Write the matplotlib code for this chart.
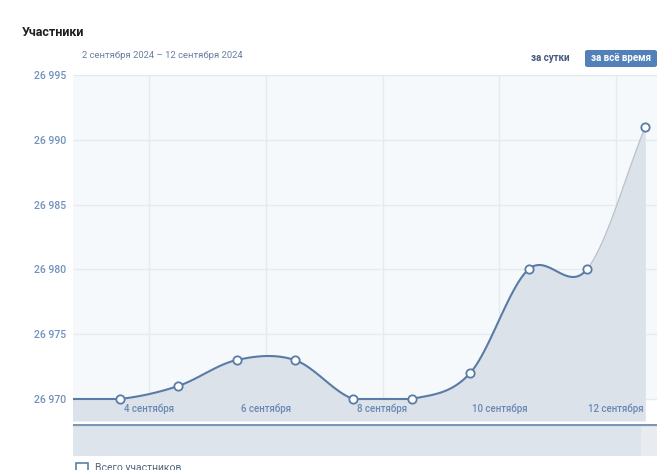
import numpy as np
import matplotlib
matplotlib.use('Agg')
import matplotlib.pyplot as plt
from matplotlib.patches import FancyBboxPatch, Rectangle

plt.rcParams['font.family'] = ['Roboto', 'DejaVu Sans']

# Data: members count per day (September 2024)
days = [2, 3, 4, 5, 6, 7, 8, 9, 10, 11, 12]
members = [26970, 26970, 26971, 26973, 26973, 26970, 26970, 26972, 26980, 26980, 26991]
tick_days = [4, 6, 8, 10, 12]
tick_labels = ['4 сентября', '6 сентября', '8 сентября', '10 сентября', '12 сентября']
y_ticks = [26970, 26975, 26980, 26985, 26990, 26995]

title = 'Участники'
period = '2 сентября 2024 – 12 сентября 2024'
btn_day = 'за сутки'
btn_all = 'за всё время'
footer = 'Всего участников'

# Colors
line_c = '#5a7ba6'
fill_c = '#dbe2ea'
bg_c = '#f6f9fc'
grid_c = '#e6eaef'
tick_c = '#7190bc'
xlab_c = '#6a88b3'

W, H = 670, 470
fig = plt.figure(figsize=(W / 100, H / 100), dpi=100)


def px(x, y):
    return x / W, 1 - y / H


# Points sit in the middle of each day
xs = np.array(days, dtype=float) + 0.5
ys = np.array(members, dtype=float)

# Smooth curve (cubic Hermite, Catmull-Rom tangents), floored at the series minimum
tang = np.gradient(ys, xs)
cx, cy = [], []
for i in range(len(xs) - 1):
    t = np.linspace(0, 1, 40)
    h = xs[i + 1] - xs[i]
    h00 = 2 * t**3 - 3 * t**2 + 1
    h10 = t**3 - 2 * t**2 + t
    h01 = -2 * t**3 + 3 * t**2
    h11 = t**3 - t**2
    seg = h00 * ys[i] + h10 * h * tang[i] + h01 * ys[i + 1] + h11 * h * tang[i + 1]
    cx.append(xs[i] + t * h)
    cy.append(np.maximum(seg, ys.min()))

x_lo = 2.70
x_hi = 12.70
y_lo = 26968.3
y_hi = 26995

# Main axes
l, t_ = 73, 75
r, b = 657, 421
ax = fig.add_axes([l / W, 1 - b / H, (r - l) / W, (b - t_) / H])
ax.set_xlim(x_lo, x_hi)
ax.set_ylim(y_lo, y_hi)
for s in ax.spines.values():
    s.set_visible(False)
ax.set_facecolor('white')
ax.axhspan(26970, y_hi, color=bg_c, zorder=0, lw=0)

# grid
ax.hlines(y_ticks, x_lo, x_hi, color=grid_c, lw=1, zorder=1)
ax.vlines(tick_days, 26970, y_hi, color=grid_c, lw=1, zorder=1)

# area + line
all_x = np.concatenate(cx)
all_y = np.concatenate(cy)
ax.fill_between(all_x, all_y, y_lo, color=fill_c, lw=0, zorder=2)
for i in range(len(cx) - 1):
    ax.plot(cx[i], cy[i], color=line_c, lw=1.5, zorder=3, solid_capstyle='round')
ax.plot(cx[-1], cy[-1], color='#b9c3cf', lw=1.0, zorder=3)
ax.plot(xs, ys, 'o', ms=6, mfc='white', mec=line_c, mew=1.3, zorder=4, clip_on=True)

ax.set_xticks([])
ax.set_yticks(y_ticks)
ax.set_yticklabels([f'{v:,}'.replace(',', ' ') for v in y_ticks])
ax.tick_params(axis='y', length=0, pad=5, labelsize=7.5, labelcolor=tick_c)
for lab in ax.get_yticklabels():
    lab.set_fontweight('medium')

for d, lab in zip(tick_days, tick_labels):
    ax.text(d, 0.036, lab, transform=ax.get_xaxis_transform(), ha='center', va='center',
            fontsize=7, fontweight='medium', color=xlab_c, zorder=5)

# Navigator strip
nav = fig.add_axes([l / W, 1 - 456 / H, (r - l) / W, (456 - 424) / H])
nav.set_xlim(0, 1)
nav.set_ylim(0, 1)
nav.axis('off')
nav.axvspan(0, 1, color='#dee4eb', lw=0)
nav.axvspan((641 - l) / (r - l), 1, color='#e8ecf1', lw=0)
nav.axhline(0.97, color='#7d94b2', lw=1.6)

# Header texts
fig.text(*px(22, 32), title, fontsize=9, fontweight='bold', color='#1f1f1f', va='center')
fig.text(*px(82, 55), period, fontsize=6.8, color='#6a7e9e', va='center')
fig.text(*px(550, 58), btn_day, fontsize=7, fontweight='bold', color='#45597a', ha='center', va='center')
bx, by = px(585, 67)
fig.patches.append(FancyBboxPatch((bx, by), 72 / W, 17 / H, boxstyle='round,pad=0,rounding_size=0.004',
                                  transform=fig.transFigure, fc='#5181b8', ec='none'))
fig.text(*px(621, 58), btn_all, fontsize=7, fontweight='bold', color='white', ha='center', va='center')

# Footer checkbox (cut off at the bottom, as in the page screenshot)
cx0, cy0 = px(76, 475)
fig.patches.append(Rectangle((cx0, cy0), 12 / W, 12 / H, transform=fig.transFigure,
                             fc='white', ec='#5b7fa8', lw=1.2))
fig.text(*px(95, 463), footer, fontsize=7.5, color='#55657a', va='top')

fig.savefig('out.png', dpi=100)
